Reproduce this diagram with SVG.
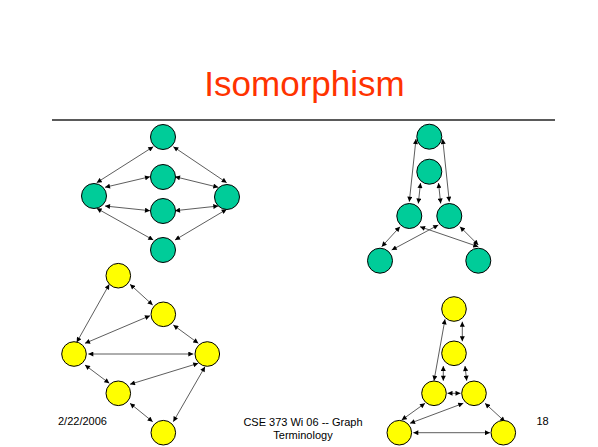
<svg xmlns="http://www.w3.org/2000/svg" width="598" height="447" viewBox="0 0 598 447">
  <style>
    .title { font-family: "Liberation Sans", Arial, sans-serif; font-size: 35px; fill: #FF3300; }
    .foot { font-family: "Liberation Sans", Arial, sans-serif; font-size: 11px; fill: #000; }
    .g { fill: #00CC99; stroke: #000; stroke-width: 1; }
    .y { fill: #FFFF00; stroke: #000; stroke-width: 1; }
    .e { stroke: #333; stroke-width: 0.8; fill: none; marker-start: url(#ah); marker-end: url(#ah); }
  </style>
  <defs>
    <marker id="ah" viewBox="0 0 10 10" refX="10" refY="5" markerWidth="6" markerHeight="5" markerUnits="userSpaceOnUse" orient="auto-start-reverse">
      <path d="M0,0 L10,5 L0,10 z" fill="#000"/>
    </marker>
  </defs>

  <rect width="598" height="447" fill="#fff"/>

  <!-- heading and rule -->
  <text class="title" x="304.5" y="96" text-anchor="middle">Isomorphism</text>
  <line x1="52" y1="120" x2="555" y2="120" stroke="#5a5a5a" stroke-width="2"/>

  <!-- connectors -->
  <g id="connectors">
    <!-- green graph, left -->
    <line class="e" x1="96.7" y1="182.7" x2="153.3" y2="146.7"/>
    <line class="e" x1="105" y1="187.3" x2="150" y2="176.7"/>
    <line class="e" x1="105" y1="206" x2="150" y2="210.7"/>
    <line class="e" x1="96.7" y1="208.3" x2="153.3" y2="240"/>
    <line class="e" x1="173.3" y1="146.7" x2="226.7" y2="182.7"/>
    <line class="e" x1="175" y1="176.7" x2="218.3" y2="187.3"/>
    <line class="e" x1="175" y1="210.7" x2="218.3" y2="206"/>
    <line class="e" x1="175" y1="240" x2="226.7" y2="209.3"/>
    <!-- green graph, right -->
    <line class="e" x1="416" y1="139" x2="409.3" y2="201.7"/>
    <line class="e" x1="442.7" y1="139" x2="449.3" y2="201.7"/>
    <line class="e" x1="420.5" y1="183" x2="418.3" y2="203.5"/>
    <line class="e" x1="438.5" y1="183" x2="440.7" y2="203.5"/>
    <line class="e" x1="400" y1="226.7" x2="381.7" y2="246.7"/>
    <line class="e" x1="420" y1="226.7" x2="478.3" y2="246.7"/>
    <line class="e" x1="438.3" y1="225" x2="391.7" y2="250"/>
    <line class="e" x1="460" y1="226.7" x2="478.3" y2="245"/>
    <!-- yellow graph, left -->
    <line class="e" x1="109.3" y1="284.3" x2="76.7" y2="342.3"/>
    <line class="e" x1="130" y1="284.3" x2="152.7" y2="305"/>
    <line class="e" x1="150" y1="315.7" x2="85" y2="343.3"/>
    <line class="e" x1="173.3" y1="325" x2="198.3" y2="343.3"/>
    <line class="e" x1="88.3" y1="354" x2="193.3" y2="354"/>
    <line class="e" x1="85" y1="365" x2="109.3" y2="383.3"/>
    <line class="e" x1="130" y1="384.3" x2="198.3" y2="363.3"/>
    <line class="e" x1="130" y1="403.3" x2="152.7" y2="421.7"/>
    <line class="e" x1="173.3" y1="421.7" x2="205" y2="366.7"/>
    <!-- yellow graph, right -->
    <line class="e" x1="445" y1="319.3" x2="434" y2="380.7"/>
    <line class="e" x1="462.3" y1="321.7" x2="462.3" y2="341.3"/>
    <line class="e" x1="443.3" y1="366" x2="443.3" y2="380.7"/>
    <line class="e" x1="465" y1="366" x2="466.7" y2="380.7"/>
    <line class="e" x1="447.5" y1="393.3" x2="460.5" y2="393.3"/>
    <line class="e" x1="425" y1="403.3" x2="401.7" y2="420"/>
    <line class="e" x1="463.3" y1="403.3" x2="410" y2="423.3"/>
    <line class="e" x1="485" y1="403.3" x2="505" y2="421.7"/>
    <line class="e" x1="413.3" y1="432.7" x2="490" y2="432.7"/>
  </g>

  <!-- green graph, left -->
  <g id="ga-top"><circle class="g" cx="163" cy="137" r="12.5"/></g>
  <g id="ga-mid1"><circle class="g" cx="163" cy="177" r="12.5"/></g>
  <g id="ga-mid2"><circle class="g" cx="163" cy="211" r="12.5"/></g>
  <g id="ga-bottom"><circle class="g" cx="163" cy="250" r="12.5"/></g>
  <g id="ga-left"><circle class="g" cx="94" cy="196" r="12.5"/></g>
  <g id="ga-right"><circle class="g" cx="227" cy="197" r="12.5"/></g>

  <!-- green graph, right -->
  <g id="gb-top"><circle class="g" cx="429.3" cy="136.7" r="12.5"/></g>
  <g id="gb-second"><circle class="g" cx="429.3" cy="171.7" r="12.5"/></g>
  <g id="gb-midleft"><circle class="g" cx="409.3" cy="216" r="12.5"/></g>
  <g id="gb-midright"><circle class="g" cx="449.3" cy="216" r="12.5"/></g>
  <g id="gb-botleft"><circle class="g" cx="380" cy="260.7" r="12.5"/></g>
  <g id="gb-botright"><circle class="g" cx="478.3" cy="260.7" r="12.5"/></g>

  <!-- yellow graph, left -->
  <g id="ya-top"><circle class="y" cx="118.3" cy="275.7" r="12.3"/></g>
  <g id="ya-upright"><circle class="y" cx="163.3" cy="314.3" r="12.3"/></g>
  <g id="ya-left"><circle class="y" cx="74" cy="354" r="12.3"/></g>
  <g id="ya-right"><circle class="y" cx="207.3" cy="354" r="12.3"/></g>
  <g id="ya-lowmid"><circle class="y" cx="118.3" cy="393.3" r="12.3"/></g>
  <g id="ya-bottom"><circle class="y" cx="163.3" cy="432.7" r="12.3"/></g>

  <!-- yellow graph, right -->
  <g id="yb-top"><circle class="y" cx="454" cy="309" r="12.3"/></g>
  <g id="yb-second"><circle class="y" cx="454" cy="353.3" r="12.3"/></g>
  <g id="yb-midleft"><circle class="y" cx="434" cy="393.3" r="12.3"/></g>
  <g id="yb-midright"><circle class="y" cx="474" cy="393.3" r="12.3"/></g>
  <g id="yb-botleft"><circle class="y" cx="399.3" cy="432.7" r="12.3"/></g>
  <g id="yb-botright"><circle class="y" cx="503.3" cy="432.7" r="12.3"/></g>

  <!-- footer -->
  <text class="foot" x="58" y="425">2/22/2006</text>
  <text class="foot" x="303" y="426" text-anchor="middle">CSE 373 Wi 06 -- Graph</text>
  <text class="foot" x="303" y="438.5" text-anchor="middle">Terminology</text>
  <text class="foot" x="536.5" y="425">18</text>
</svg>
